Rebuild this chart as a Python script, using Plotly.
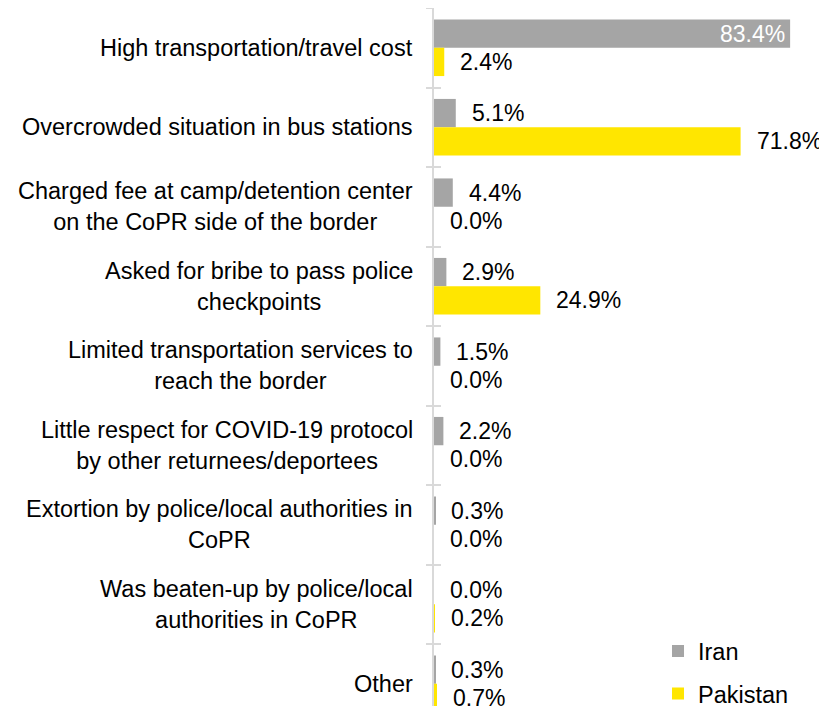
import plotly.graph_objects as go

categories = [
    "High transportation/travel cost",
    "Overcrowded situation in bus stations",
    "Charged fee at camp/detention center<br>on the CoPR side of the border",
    "Asked for bribe to pass police<br>checkpoints",
    "Limited transportation services to<br>reach the border",
    "Little respect for COVID-19 protocol<br>by other returnees/deportees",
    "Extortion by police/local authorities in<br>CoPR",
    "Was beaten-up by police/local<br>authorities in CoPR",
    "Other",
]
iran = [83.4, 5.1, 4.4, 2.9, 1.5, 2.2, 0.3, 0.0, 0.3]
pakistan = [2.4, 71.8, 0.0, 24.9, 0.0, 0.0, 0.0, 0.2, 0.7]
series_names = ["Iran", "Pakistan"]
colors = ["#A5A5A5", "#FFE600"]

FONT = "Liberation Sans, Arial, sans-serif"
FS = 23.5
FS_VAL = 23
# page body has an 8px margin, so the figure is sized to the visible area
W, H = 819, 698
ML, MT = 426, 0
PX_PER_UNIT = 4.27
BAND = 79.5
plot_h = H - MT
plot_w = W - ML
xmax = plot_w / PX_PER_UNIT
yrange = [-0.5 + plot_h / BAND, -0.5]

pos = list(range(len(categories)))
boundaries = [p - 0.5 for p in pos] + [pos[-1] + 0.5]

fig = go.Figure()
for name, vals, col in zip(series_names, [iran, pakistan], colors):
    fig.add_trace(go.Bar(
        y=pos, x=vals, name=name, orientation="h",
        marker=dict(color=col, line=dict(width=0)),
        legendgroup=name, cliponaxis=True,
    ))

# invisible trace for the inner tick axis
fig.add_trace(go.Scatter(x=[0] * len(pos), y=pos, yaxis="y2",
                         mode="markers", marker=dict(opacity=0), showlegend=False,
                         hoverinfo="skip"))

annotations = []
# category labels (block right aligned, lines centered)
for p, c in zip(pos, categories):
    annotations.append(dict(
        x=0, xref="paper", y=p, yref="y", text=c, showarrow=False,
        xanchor="right", yanchor="middle", align="center", xshift=-19,
        font=dict(family=FONT, size=FS, color="#000000"),
    ))

bar_px = BAND * (1 - 0.2875) / 2
for si, vals in enumerate([iran, pakistan]):
    yshift = bar_px / 2 if si == 0 else -bar_px / 2
    for p, v in zip(pos, vals):
        label = f"{v:.1f}%"
        inside = v > 75
        annotations.append(dict(
            x=v, xref="x", y=p, yref="y", text=label, showarrow=False,
            xanchor="right" if inside else "left", yanchor="middle",
            xshift=-3 if inside else 14, yshift=yshift,
            font=dict(family=FONT, size=FS_VAL, color="#FFFFFF" if inside else "#000000"),
        ))

axis_common = dict(type="linear", range=yrange, autorange=False,
                   showticklabels=False, showgrid=False, zeroline=False,
                   tickmode="array", tickvals=boundaries,
                   tickcolor="#D9D9D9", tickwidth=1.5, automargin=False)

fig.update_layout(
    width=W, height=H,
    margin=dict(l=ML, r=0, t=MT, b=0, pad=0, autoexpand=False),
    paper_bgcolor="white", plot_bgcolor="white",
    barmode="group", bargap=0.2875, bargroupgap=0,
    font=dict(family=FONT, size=FS, color="#000000"),
    xaxis=dict(range=[0, xmax], showticklabels=False, showgrid=False,
               zeroline=False, showline=False, fixedrange=True),
    yaxis=dict(**axis_common, showline=True, linecolor="#D9D9D9", linewidth=1.5,
               ticks="outside", ticklen=6),
    yaxis2=dict(**axis_common, overlaying="y", anchor="x", side="left",
                showline=False, ticks="inside", ticklen=7),
    legend=dict(x=0.57, y=0.110, xanchor="left", yanchor="top",
                font=dict(family=FONT, size=FS, color="#000000"),
                tracegroupgap=9, bgcolor="rgba(0,0,0,0)", itemwidth=30),
    annotations=annotations,
    showlegend=True,
)

fig.write_html("out.html")
